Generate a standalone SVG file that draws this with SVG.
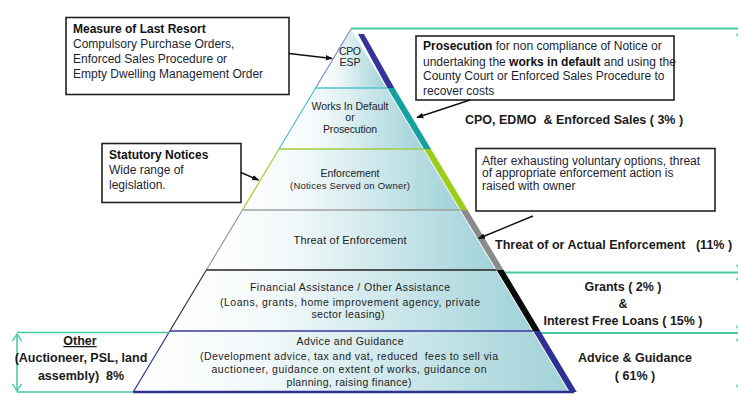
<svg xmlns="http://www.w3.org/2000/svg" width="738" height="394" viewBox="0 0 738 394">
<style>
.pt{font-family:"Liberation Sans",Arial,sans-serif;font-size:10.5px;fill:#222;text-anchor:middle}
.bx{fill:#fff;stroke:#222;stroke-width:1.6}
.bt{font-family:"Liberation Sans",Arial,sans-serif;font-size:12px;fill:#1c1f33}
.bb{font-weight:bold;fill:#111}
.rl{font-family:"Liberation Sans",Arial,sans-serif;font-size:12.5px;font-weight:bold;fill:#1a1a1a}
.ctr{text-anchor:middle}
.tl{stroke:#45c9a5;stroke-width:2;fill:none}
.ar{stroke:#111;stroke-width:1.4;fill:none;marker-end:url(#ah)}
.va{stroke:#45c9a5;stroke-width:1.5;fill:none;marker-start:url(#oa);marker-end:url(#oa)}
</style>
<defs>
<linearGradient id="g" x1="0" y1="0" x2="1" y2="0">
<stop offset="0" stop-color="#ffffff"/>
<stop offset="0.3" stop-color="#f1f8f9"/>
<stop offset="0.75" stop-color="#bde0e5"/>
<stop offset="1" stop-color="#a1d2d8"/>
</linearGradient>
<marker id="ah" viewBox="0 0 10 10" refX="9" refY="5" markerWidth="7" markerHeight="7" markerUnits="userSpaceOnUse" orient="auto">
<path d="M0,1 L10,5 L0,9 z" fill="#111"/>
</marker>
<marker id="oa" viewBox="0 0 10 12" refX="9" refY="6" markerWidth="9" markerHeight="11" markerUnits="userSpaceOnUse" orient="auto-start-reverse">
<path d="M1,1 L9,6 L1,11" fill="none" stroke="#45c9a5" stroke-width="1.5"/>
</marker>
</defs>
<rect width="738" height="394" fill="#fff"/>

<g id="guides">
<line class="tl" x1="351" y1="28.5" x2="738" y2="28.5"/>
<line class="tl" x1="503" y1="272.5" x2="738" y2="272.5"/>
<line class="tl" x1="535" y1="333" x2="738" y2="333"/>
<line class="va" x1="741" y1="29" x2="741" y2="272"/>
<line class="va" x1="741" y1="273" x2="741" y2="333"/>
<line class="va" x1="741" y1="334" x2="741" y2="392"/>
</g>

<g id="level1">
<polygon points="351,29 315.6,88 386.4,88" fill="url(#g)"/>
<line x1="351" y1="29" x2="315.6" y2="88" stroke="#8a86c8" stroke-width="1.2"/>
<polygon points="358,34 364,34 394.4,88 387.4,88" fill="#35349a"/>
<text class="pt" x="350" y="55" textLength="22">CPO</text>
<text class="pt" x="350" y="66">ESP</text>
</g>
<g id="level2">
<polygon points="315.6,88 386.4,88 423,149 279,149" fill="url(#g)"/>
<line x1="315.6" y1="88" x2="279" y2="149" stroke="#4bbfcf" stroke-width="1.2"/>
<line x1="315.6" y1="88" x2="387" y2="88" stroke="#50c3c8" stroke-width="1.3"/>
<polygon points="387.4,88 394.4,88 431,149 424,149" fill="#17a0a0"/>
<text class="pt" x="350" y="109.5" textLength="77">Works In Default</text>
<text class="pt" x="350" y="121">or</text>
<text class="pt" x="350" y="132.5" textLength="54">Prosecution</text>
</g>
<g id="level3">
<polygon points="279,149 423,149 459.6,210 242.4,210" fill="url(#g)"/>
<line x1="279" y1="149" x2="242.4" y2="210" stroke="#a6d13a" stroke-width="1.3"/>
<line x1="279" y1="149" x2="424" y2="149" stroke="#a0cc40" stroke-width="1.5"/>
<polygon points="424,149 431,149 467.6,210 460.6,210" fill="#9ccc1c"/>
<text class="pt" x="350" y="176.5" textLength="59">Enforcement</text>
<text class="pt" x="350" y="189" textLength="120" style="font-size:9.5px">(Notices Served on Owner)</text>
</g>
<g id="level4">
<polygon points="242.4,210 459.6,210 495.6,270 206.4,270" fill="url(#g)"/>
<line x1="242.4" y1="210" x2="206.4" y2="270" stroke="#9a9a9a" stroke-width="1.2"/>
<line x1="242.4" y1="210" x2="460.6" y2="210" stroke="#a0a0a0" stroke-width="1.3"/>
<polygon points="460.6,210 467.6,210 503.6,270 496.6,270" fill="#8a8a8a"/>
<text class="pt" x="350" y="243.5" textLength="113" style="font-size:11px">Threat of Enforcement</text>
</g>
<g id="level5">
<polygon points="206.4,270 495.6,270 532.2,331 169.8,331" fill="url(#g)"/>
<line x1="206.4" y1="270" x2="169.8" y2="331" stroke="#333" stroke-width="1.2"/>
<line x1="206.4" y1="270" x2="496.6" y2="270" stroke="#222" stroke-width="1.4"/>
<polygon points="496.6,270 503.6,270 540.2,331 533.2,331" fill="#0a0a0a"/>
<text class="pt" x="350" y="290.5" textLength="200">Financial Assistance / Other Assistance</text>
<text class="pt" x="350" y="305.5" textLength="260">(Loans, grants, home improvement agency, private</text>
<text class="pt" x="348" y="318" textLength="73">sector leasing)</text>
</g>
<g id="level6">
<polygon points="169.8,331 532.2,331 568.8,392 133.2,392" fill="url(#g)"/>
<line x1="169.8" y1="331" x2="133.2" y2="392" stroke="#3a3a9a" stroke-width="1.3"/>
<line x1="169.8" y1="331" x2="533.2" y2="331" stroke="#3a3a9c" stroke-width="1.5"/>
<line x1="133.2" y1="392" x2="574" y2="392" stroke="#2e3192" stroke-width="2.5"/>
<polygon points="533.2,331 540.2,331 576.8,392 569.8,392" fill="#2e3192"/>
<text class="pt" x="350" y="344.5" textLength="107">Advice and Guidance</text>
<text class="pt" x="349" y="360" textLength="298" xml:space="preserve">(Development advice, tax and vat, reduced  fees to sell via</text>
<text class="pt" x="349" y="373" textLength="275">auctioneer, guidance on extent of works, guidance on</text>
<text class="pt" x="349" y="386" textLength="125">planning, raising finance)</text>
</g>

<g id="other">
<line class="tl" x1="17" y1="332.5" x2="170" y2="332.5" style="stroke-width:1.5"/>
<line class="tl" x1="17" y1="392" x2="133" y2="392" style="stroke-width:1.5"/>
<line class="va" x1="17" y1="334" x2="17" y2="391"/>
<text class="rl ctr" x="80" y="345" text-decoration="underline">Other</text>
<text class="rl ctr" x="81" y="362">(Auctioneer, PSL, land</text>
<text class="rl ctr" x="81" y="380" xml:space="preserve">assembly)  8%</text>
</g>

<g id="box-measure">
<rect class="bx" x="66" y="17.5" width="223" height="77"/>
<text class="bt bb" x="73" y="32.5">Measure of Last Resort</text>
<text class="bt" x="73" y="48">Compulsory Purchase Orders,</text>
<text class="bt" x="73" y="63">Enforced Sales Procedure or</text>
<text class="bt" x="73" y="78">Empty Dwelling Management Order</text>
</g>

<g id="box-prosecution">
<rect class="bx" x="416" y="36" width="258" height="64"/>
<text class="bt" x="423" y="50"><tspan class="bb">Prosecution</tspan> for non compliance of Notice or</text>
<text class="bt" x="423" y="65.5">undertaking the <tspan class="bb">works in default</tspan> and using the</text>
<text class="bt" x="423" y="80">County Court or Enforced Sales Procedure to</text>
<text class="bt" x="423" y="95">recover costs</text>
</g>

<g id="box-statutory">
<rect class="bx" x="102" y="143.5" width="139" height="59"/>
<text class="bt bb" x="109" y="158.5">Statutory Notices</text>
<text class="bt" x="109" y="174">Wide range of</text>
<text class="bt" x="109" y="188.5">legislation.</text>
</g>

<g id="box-threat">
<rect class="bx" x="476" y="148.5" width="239" height="62.5"/>
<text class="bt" x="482" y="164.5">After exhausting voluntary options, threat</text>
<text class="bt" x="482" y="177">of appropriate enforcement action is</text>
<text class="bt" x="482" y="189.5">raised with owner</text>
</g>

<g id="labels">
<text class="rl" x="465" y="123.5" xml:space="preserve">CPO, EDMO  &amp; Enforced Sales ( 3% )</text>
<text class="rl" x="495" y="249" xml:space="preserve">Threat of or Actual Enforcement   (11% )</text>
<text class="rl ctr" x="623" y="291">Grants ( 2% )</text>
<text class="rl ctr" x="623" y="307.5">&amp;</text>
<text class="rl ctr" x="623" y="325">Interest Free Loans ( 15% )</text>
<text class="rl ctr" x="635" y="362">Advice &amp; Guidance</text>
<text class="rl ctr" x="635" y="380">( 61% )</text>
</g>

<g id="connectors">
<line class="ar" x1="289" y1="53.5" x2="332" y2="58.5"/>
<line class="ar" x1="470" y1="100" x2="417" y2="117.5"/>
<line class="ar" x1="241" y1="172.5" x2="258.5" y2="180"/>
<line class="ar" x1="533" y1="216" x2="478.5" y2="238.5"/>
</g>
</svg>
